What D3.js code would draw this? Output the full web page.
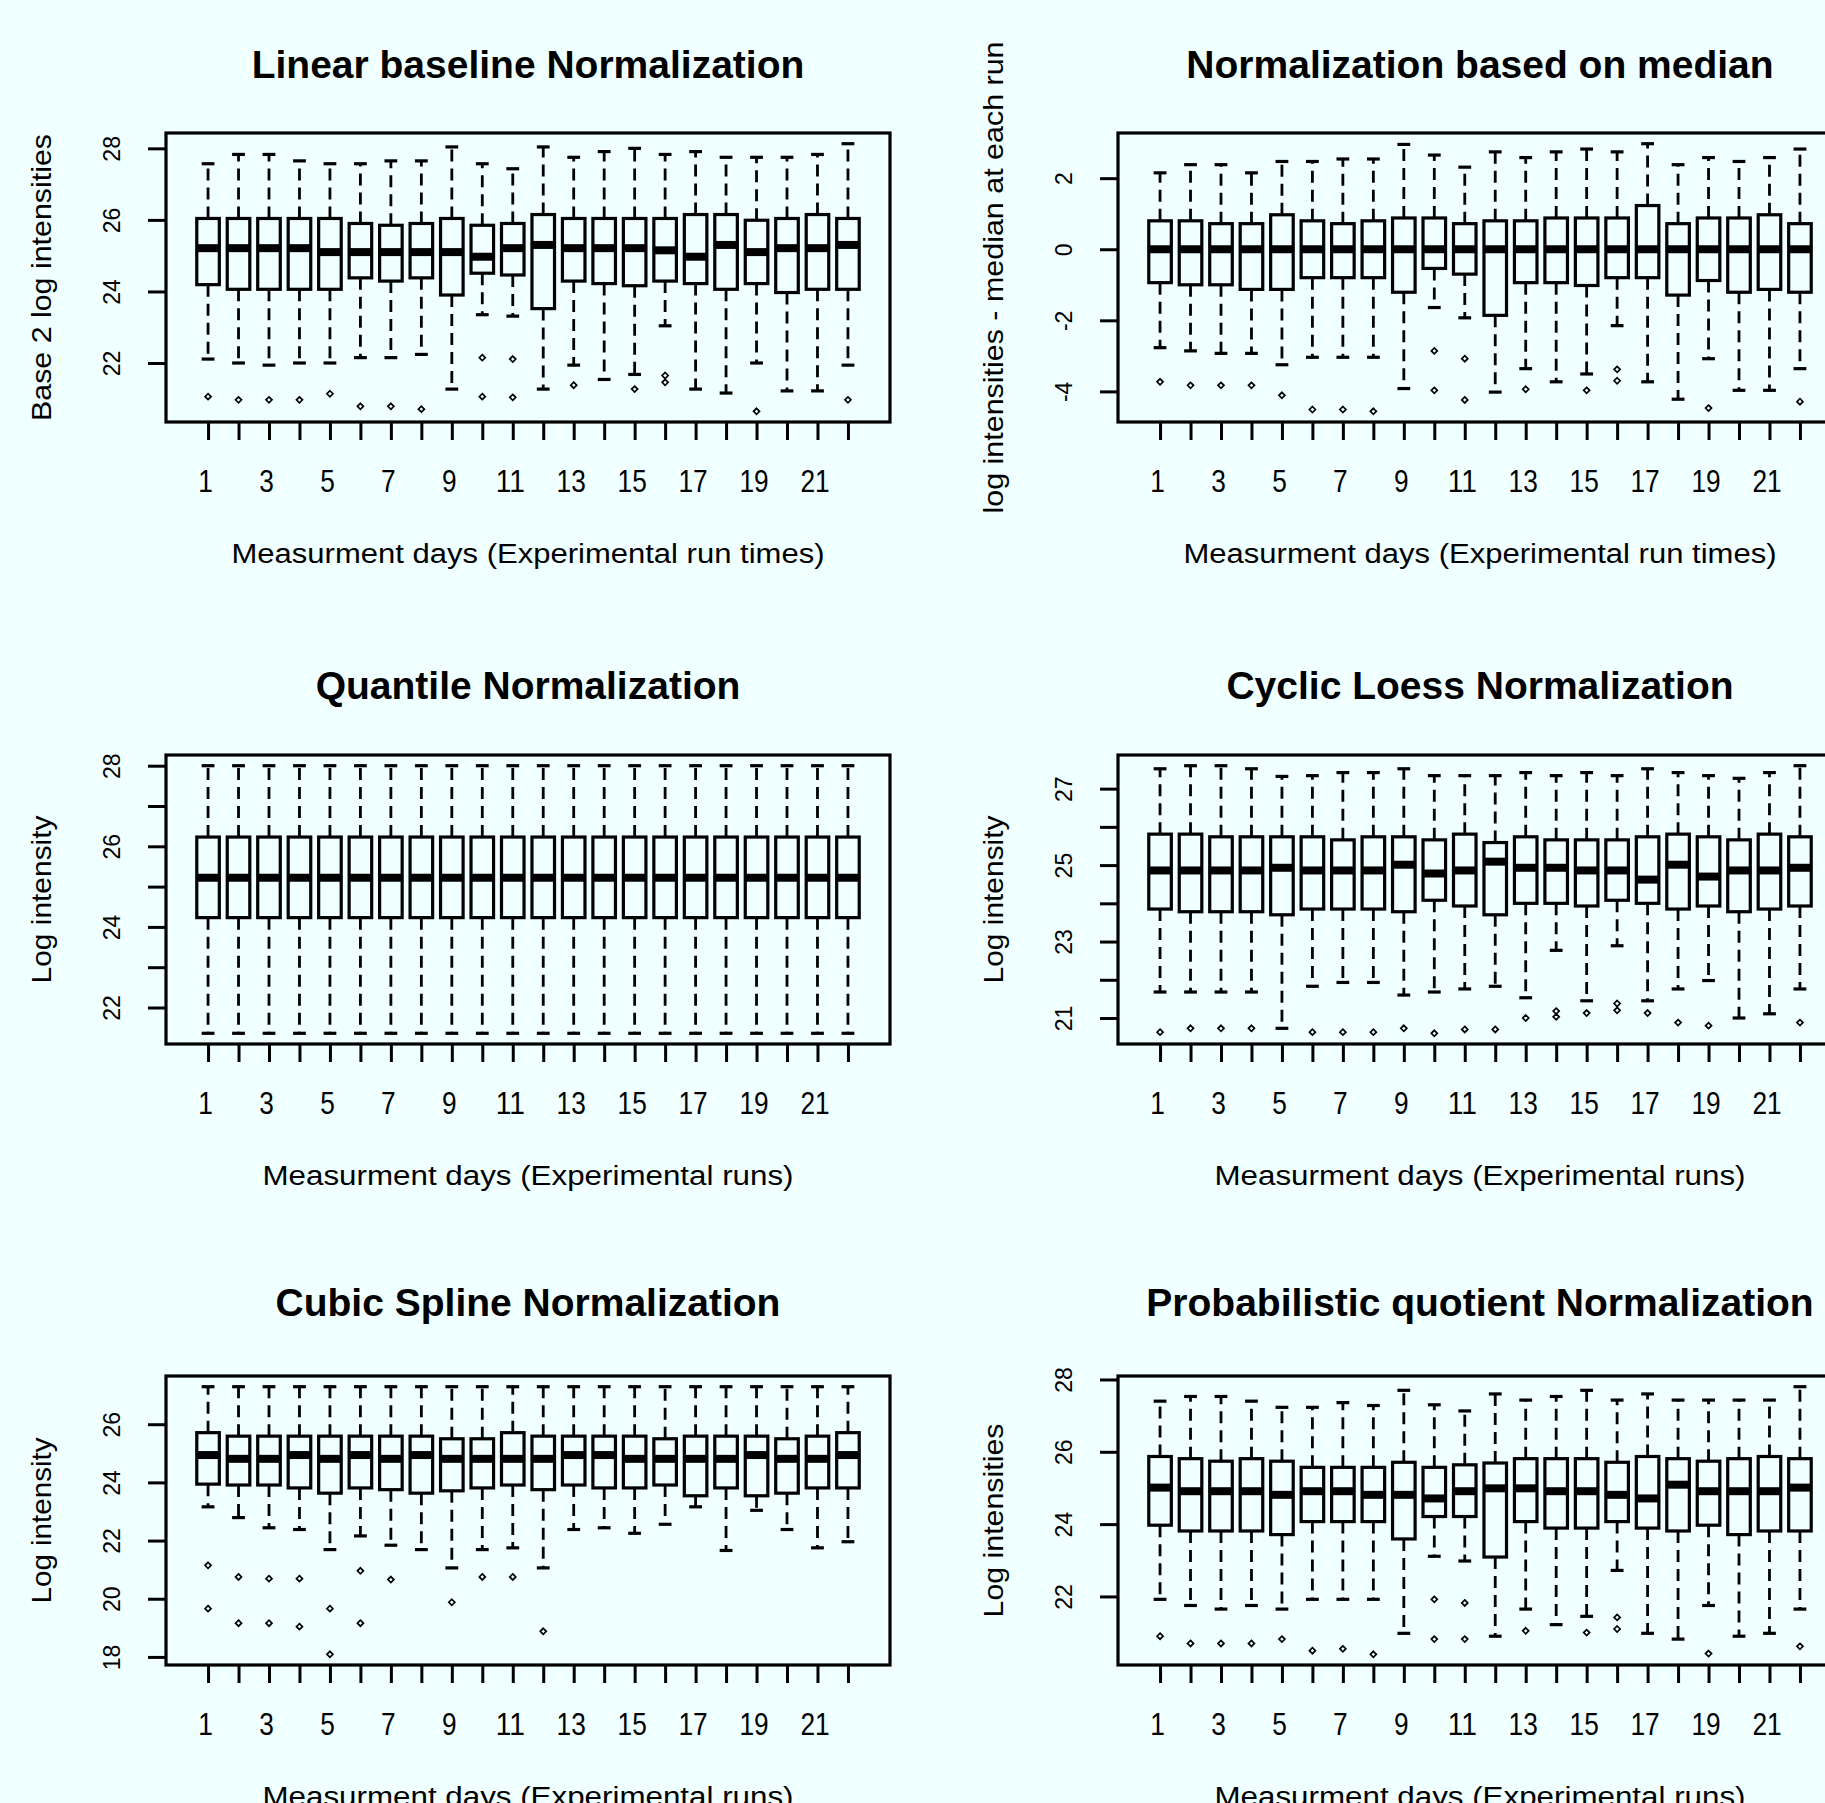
<!DOCTYPE html>
<html>
<head>
<meta charset="utf-8">
<script src="https://cdn.jsdelivr.net/npm/d3@7"></script>
<style>
  html, body { margin: 0; padding: 0; overflow: hidden; background: #F0FFFF; }
  text { font-family: "Liberation Sans", Arial, sans-serif; fill: #000; }
</style>
</head>
<body>
<script>
// Measurement days (one box per experimental run)
const days = [1, 2, 3, 4, 5, 6, 7, 8, 9, 10, 11, 12, 13, 14, 15, 16, 17, 18, 19, 20, 21, 22];

// Linear baseline normalization: whisker ends, quartiles, medians, outliers
const linearUpper  = [27.57, 27.83, 27.83, 27.65, 27.57, 27.57, 27.65, 27.65, 28.04, 27.57, 27.43, 28.04, 27.75, 27.91, 28.00, 27.83, 27.91, 27.75, 27.75, 27.75, 27.83, 28.13];
const linearQ3     = [26.04, 26.04, 26.04, 26.04, 26.04, 25.90, 25.85, 25.90, 26.04, 25.85, 25.90, 26.15, 26.04, 26.04, 26.04, 26.04, 26.15, 26.15, 25.99, 26.04, 26.15, 26.04];
const linearMedian = [25.21, 25.21, 25.21, 25.21, 25.10, 25.10, 25.10, 25.10, 25.10, 24.97, 25.21, 25.30, 25.21, 25.21, 25.21, 25.15, 24.97, 25.30, 25.10, 25.21, 25.21, 25.30];
const linearQ1     = [24.19, 24.06, 24.06, 24.06, 24.06, 24.38, 24.29, 24.38, 23.90, 24.51, 24.46, 23.52, 24.29, 24.22, 24.16, 24.29, 24.22, 24.06, 24.22, 23.97, 24.06, 24.06];
const linearLower  = [22.11, 22.00, 21.94, 22.00, 22.00, 22.15, 22.15, 22.24, 21.27, 23.35, 23.31, 21.27, 21.94, 21.54, 21.68, 23.04, 21.27, 21.16, 22.00, 21.22, 21.22, 21.94];
const linearOut    = [[21.06], [20.97], [20.97], [20.97], [21.14], [20.79], [20.79], [20.71], [], [22.15, 21.06], [22.11, 21.04], [], [21.38], [], [21.27], [21.65, 21.46], [], [], [20.65], [], [], [20.97]];

// Normalization based on median (log intensity minus the run median)
const medianUpper  = [2.15, 2.38, 2.38, 2.15, 2.47, 2.47, 2.54, 2.54, 2.95, 2.65, 2.31, 2.74, 2.58, 2.74, 2.82, 2.74, 2.97, 2.38, 2.58, 2.47, 2.58, 2.82];
const medianQ3     = [0.80, 0.80, 0.72, 0.72, 0.97, 0.80, 0.72, 0.80, 0.88, 0.88, 0.72, 0.80, 0.80, 0.88, 0.88, 0.88, 1.23, 0.72, 0.88, 0.88, 0.97, 0.72];
const medianMedian = [0, 0, 0, 0, 0, 0, 0, 0, 0, 0, 0, 0, 0, 0, 0, 0, 0, 0, 0, 0, 0, 0];
const medianQ1     = [-0.94, -1.00, -1.00, -1.13, -1.13, -0.80, -0.80, -0.80, -1.21, -0.54, -0.70, -1.86, -0.94, -0.94, -1.02, -0.80, -0.80, -1.29, -0.88, -1.21, -1.13, -1.21];
const medianLower  = [-2.77, -2.86, -2.93, -2.93, -3.25, -3.04, -3.04, -3.04, -3.92, -1.64, -1.93, -4.02, -3.36, -3.73, -3.51, -2.15, -3.73, -4.22, -3.08, -3.97, -3.97, -3.36];
const medianOut    = [[-3.73], [-3.83], [-3.83], [-3.83], [-4.11], [-4.51], [-4.51], [-4.56], [], [-2.86, -3.97], [-3.08, -4.24], [], [-3.94], [], [-3.97], [-3.38, -3.70], [], [], [-4.47], [], [], [-4.29]];

// Quantile normalization: identical distributions on every day
const quantileUpper  = [28.00, 28.00, 28.00, 28.00, 28.00, 28.00, 28.00, 28.00, 28.00, 28.00, 28.00, 28.00, 28.00, 28.00, 28.00, 28.00, 28.00, 28.00, 28.00, 28.00, 28.00, 28.00];
const quantileQ3     = [26.23, 26.23, 26.23, 26.23, 26.23, 26.23, 26.23, 26.23, 26.23, 26.23, 26.23, 26.23, 26.23, 26.23, 26.23, 26.23, 26.23, 26.23, 26.23, 26.23, 26.23, 26.23];
const quantileMedian = [25.22, 25.22, 25.22, 25.22, 25.22, 25.22, 25.22, 25.22, 25.22, 25.22, 25.22, 25.22, 25.22, 25.22, 25.22, 25.22, 25.22, 25.22, 25.22, 25.22, 25.22, 25.22];
const quantileQ1     = [24.23, 24.23, 24.23, 24.23, 24.23, 24.23, 24.23, 24.23, 24.23, 24.23, 24.23, 24.23, 24.23, 24.23, 24.23, 24.23, 24.23, 24.23, 24.23, 24.23, 24.23, 24.23];
const quantileLower  = [21.36, 21.36, 21.36, 21.36, 21.36, 21.36, 21.36, 21.36, 21.36, 21.36, 21.36, 21.36, 21.36, 21.36, 21.36, 21.36, 21.36, 21.36, 21.36, 21.36, 21.36, 21.36];
const quantileOut    = [[], [], [], [], [], [], [], [], [], [], [], [], [], [], [], [], [], [], [], [], [], []];

// Cyclic loess normalization
const loessUpper  = [27.52, 27.60, 27.60, 27.52, 27.32, 27.34, 27.42, 27.42, 27.52, 27.34, 27.34, 27.34, 27.42, 27.34, 27.42, 27.34, 27.52, 27.42, 27.34, 27.27, 27.42, 27.60];
const loessQ3     = [25.81, 25.81, 25.74, 25.74, 25.74, 25.74, 25.66, 25.74, 25.74, 25.66, 25.81, 25.59, 25.74, 25.66, 25.66, 25.66, 25.74, 25.81, 25.74, 25.66, 25.81, 25.74];
const loessMedian = [24.86, 24.86, 24.86, 24.86, 24.93, 24.86, 24.86, 24.86, 25.01, 24.78, 24.86, 25.09, 24.93, 24.93, 24.86, 24.86, 24.62, 25.01, 24.70, 24.86, 24.86, 24.93];
const loessQ1     = [23.85, 23.78, 23.78, 23.78, 23.70, 23.85, 23.85, 23.85, 23.78, 24.08, 23.93, 23.70, 24.00, 24.00, 23.93, 24.08, 24.00, 23.85, 23.93, 23.78, 23.85, 23.93];
const loessLower  = [21.68, 21.68, 21.68, 21.68, 20.73, 21.83, 21.93, 21.93, 21.60, 21.68, 21.76, 21.83, 21.53, 22.77, 21.45, 22.89, 21.45, 21.76, 21.98, 21.00, 21.11, 21.76];
const loessOut    = [[20.63], [20.73], [20.73], [20.73], [], [20.63], [20.63], [20.63], [20.73], [20.60], [20.70], [20.70], [21.00], [21.18, 21.03], [21.13], [21.38, 21.20], [21.13], [20.88], [20.80], [], [], [20.88]];

// Cubic spline normalization
const splineUpper  = [27.29, 27.29, 27.29, 27.29, 27.29, 27.29, 27.29, 27.29, 27.29, 27.29, 27.29, 27.29, 27.29, 27.29, 27.29, 27.29, 27.29, 27.29, 27.29, 27.29, 27.29, 27.29];
const splineQ3     = [25.71, 25.59, 25.59, 25.59, 25.59, 25.59, 25.59, 25.59, 25.50, 25.50, 25.71, 25.59, 25.59, 25.59, 25.59, 25.50, 25.59, 25.59, 25.59, 25.50, 25.59, 25.71];
const splineMedian = [24.94, 24.81, 24.81, 24.94, 24.81, 24.94, 24.81, 24.94, 24.81, 24.81, 24.81, 24.81, 24.94, 24.94, 24.81, 24.81, 24.81, 24.81, 24.94, 24.81, 24.81, 24.94];
const splineQ1     = [23.94, 23.91, 23.91, 23.81, 23.63, 23.81, 23.75, 23.63, 23.71, 23.81, 23.91, 23.75, 23.91, 23.81, 23.81, 23.91, 23.54, 23.81, 23.54, 23.63, 23.81, 23.81];
const splineLower  = [23.16, 22.79, 22.44, 22.38, 21.69, 22.16, 21.84, 21.69, 21.06, 21.69, 21.75, 21.06, 22.38, 22.44, 22.25, 22.56, 23.16, 21.66, 23.04, 22.38, 21.75, 21.96];
const splineOut    = [[21.15, 19.66], [20.75, 19.16], [20.69, 19.16], [20.69, 19.04], [19.66, 18.09], [20.96, 19.16], [20.66], [], [19.88], [20.75], [20.75], [18.88], [], [], [], [], [], [], [], [], [], []];

// Probabilistic quotient normalization
const pqnUpper  = [27.40, 27.53, 27.53, 27.40, 27.23, 27.23, 27.36, 27.28, 27.70, 27.30, 27.13, 27.60, 27.43, 27.53, 27.70, 27.43, 27.60, 27.43, 27.43, 27.43, 27.43, 27.80];
const pqnQ3     = [25.87, 25.81, 25.74, 25.81, 25.74, 25.57, 25.57, 25.57, 25.71, 25.57, 25.64, 25.69, 25.81, 25.81, 25.81, 25.71, 25.87, 25.81, 25.74, 25.81, 25.87, 25.81];
const pqnMedian = [25.01, 24.91, 24.91, 24.91, 24.81, 24.91, 24.91, 24.81, 24.81, 24.71, 24.91, 24.99, 24.99, 24.91, 24.91, 24.81, 24.71, 25.09, 24.91, 24.91, 24.91, 25.01];
const pqnQ1     = [23.97, 23.81, 23.81, 23.81, 23.71, 24.07, 24.07, 24.07, 23.59, 24.21, 24.21, 23.09, 24.07, 23.89, 23.89, 24.07, 23.89, 23.81, 23.97, 23.71, 23.81, 23.81];
const pqnLower  = [21.92, 21.75, 21.65, 21.75, 21.65, 21.92, 21.92, 21.92, 20.98, 23.11, 22.98, 20.90, 21.65, 21.22, 21.45, 22.72, 20.98, 20.82, 21.75, 20.90, 20.98, 21.65];
const pqnOut    = [[20.90], [20.70], [20.70], [20.70], [20.82], [20.50], [20.55], [20.40], [], [21.92, 20.82], [21.82, 20.82], [], [21.05], [], [21.00], [21.42, 21.10], [], [], [20.42], [], [], [20.62]];

// Axis tick values and labelled ticks per panel
const linearTicks = [22, 24, 26, 28], linearTickLabels = [22, 24, 26, 28];
const medianTicks = [-4, -2, 0, 2], medianTickLabels = [-4, -2, 0, 2];
const quantileTicks = [22, 23, 24, 25, 26, 27, 28], quantileTickLabels = [22, 24, 26, 28];
const loessTicks = [21, 22, 23, 24, 25, 26, 27], loessTickLabels = [21, 23, 25, 27];
const splineTicks = [18, 20, 22, 24, 26], splineTickLabels = [18, 20, 22, 24, 26];
const pqnTicks = [22, 24, 26, 28], pqnTickLabels = [22, 24, 26, 28];
const dayLabels = [1, 3, 5, 7, 9, 11, 13, 15, 17, 19, 21];

const xlabTimes = 'Measurment days (Experimental run times)';
const xlabRuns = 'Measurment days (Experimental runs)';

const panels = [
  { title: 'Linear baseline Normalization', ylab: 'Base 2 log intensities', ylabLen: 287, xlab: xlabTimes, xlabLen: 593, col: 0, row: 0,
    upper: linearUpper, q3: linearQ3, median: linearMedian, q1: linearQ1, lower: linearLower, out: linearOut, ticks: linearTicks, tickLabels: linearTickLabels },
  { title: 'Normalization based on median', ylab: 'log intensities - median at each run', ylabLen: 472, xlab: xlabTimes, xlabLen: 593, col: 1, row: 0,
    upper: medianUpper, q3: medianQ3, median: medianMedian, q1: medianQ1, lower: medianLower, out: medianOut, ticks: medianTicks, tickLabels: medianTickLabels },
  { title: 'Quantile Normalization', ylab: 'Log intensity', ylabLen: 168, xlab: xlabRuns, xlabLen: 531, col: 0, row: 1,
    upper: quantileUpper, q3: quantileQ3, median: quantileMedian, q1: quantileQ1, lower: quantileLower, out: quantileOut, ticks: quantileTicks, tickLabels: quantileTickLabels },
  { title: 'Cyclic Loess Normalization', ylab: 'Log intensity', ylabLen: 168, xlab: xlabRuns, xlabLen: 531, col: 1, row: 1,
    upper: loessUpper, q3: loessQ3, median: loessMedian, q1: loessQ1, lower: loessLower, out: loessOut, ticks: loessTicks, tickLabels: loessTickLabels },
  { title: 'Cubic Spline Normalization', ylab: 'Log intensity', ylabLen: 166, xlab: xlabRuns, xlabLen: 531, col: 0, row: 2,
    upper: splineUpper, q3: splineQ3, median: splineMedian, q1: splineQ1, lower: splineLower, out: splineOut, ticks: splineTicks, tickLabels: splineTickLabels },
  { title: 'Probabilistic quotient Normalization', ylab: 'Log intensities', ylabLen: 194, xlab: xlabRuns, xlabLen: 531, col: 1, row: 2,
    upper: pqnUpper, q3: pqnQ3, median: pqnMedian, q1: pqnQ1, lower: pqnLower, out: pqnOut, ticks: pqnTicks, tickLabels: pqnTickLabels }
];

const W = 1825, H = 1803;
const colLeft = [166, 1118];
const rowTop = [133, 755, 1376];
const titleGap = [55, 56, 60];
const plotW = 724, plotH = 289;

const svg = d3.select('body').append('svg')
  .attr('width', W).attr('height', H)
  .attr('viewBox', `0 0 ${W} ${H}`);

svg.append('rect').attr('width', W).attr('height', H).attr('fill', '#F0FFFF');

// small hollow diamond used for outlying points
const diamond = s => `M0,${-s}L${s},0L0,${s}L${-s},0Z`;

function drawPanel(p) {
  const left = colLeft[p.col], top = rowTop[p.row];
  const bottom = top + plotH, right = left + plotW;
  const stats = days.map((d, i) => ({
    day: d, up: p.upper[i], q3: p.q3[i], med: p.median[i], q1: p.q1[i], lo: p.lower[i], out: p.out[i]
  }));

  // Value range padded by 4% on each side, as a boxplot does by default
  const vals = stats.flatMap(s => [s.up, s.lo, ...s.out]);
  const vMin = d3.min(vals), vMax = d3.max(vals), span = vMax - vMin;
  const y = d3.scaleLinear().domain([vMin - 0.04 * span, vMax + 0.04 * span]).range([bottom, top]);
  const n = days.length;
  const x = d3.scaleLinear().domain([0.5 - 0.04 * n, n + 0.5 + 0.04 * n]).range([left, right]);
  const unit = x(1) - x(0);
  const halfBox = 0.37 * unit, halfCap = 0.21 * unit;

  const g = svg.append('g');

  // Title
  g.append('text')
    .attr('x', (left + right) / 2).attr('y', top - titleGap[p.row])
    .attr('text-anchor', 'middle')
    .attr('font-size', 39).attr('font-weight', 'bold')
    .text(p.title);

  // Boxes
  const box = g.append('g').selectAll('g').data(stats).join('g');

  box.append('line')
    .attr('x1', d => x(d.day)).attr('x2', d => x(d.day))
    .attr('y1', d => y(d.q3)).attr('y2', d => y(d.up))
    .attr('stroke', '#000').attr('stroke-width', 2.8).attr('stroke-dasharray', '12,7');
  box.append('line')
    .attr('x1', d => x(d.day)).attr('x2', d => x(d.day))
    .attr('y1', d => y(d.q1)).attr('y2', d => y(d.lo))
    .attr('stroke', '#000').attr('stroke-width', 2.8).attr('stroke-dasharray', '12,7');
  box.append('line')
    .attr('x1', d => x(d.day) - halfCap).attr('x2', d => x(d.day) + halfCap)
    .attr('y1', d => y(d.up)).attr('y2', d => y(d.up))
    .attr('stroke', '#000').attr('stroke-width', 3.2);
  box.append('line')
    .attr('x1', d => x(d.day) - halfCap).attr('x2', d => x(d.day) + halfCap)
    .attr('y1', d => y(d.lo)).attr('y2', d => y(d.lo))
    .attr('stroke', '#000').attr('stroke-width', 3.2);
  box.append('rect')
    .attr('x', d => x(d.day) - halfBox).attr('width', 2 * halfBox)
    .attr('y', d => y(d.q3)).attr('height', d => y(d.q1) - y(d.q3))
    .attr('fill', 'none').attr('stroke', '#000').attr('stroke-width', 3.2);
  box.append('line')
    .attr('x1', d => x(d.day) - halfBox).attr('x2', d => x(d.day) + halfBox)
    .attr('y1', d => y(d.med)).attr('y2', d => y(d.med))
    .attr('stroke', '#000').attr('stroke-width', 8);
  box.selectAll('path.outlier').data(d => d.out.map(v => ({ day: d.day, v }))).join('path')
    .attr('class', 'outlier')
    .attr('transform', d => `translate(${x(d.day)},${y(d.v)})`)
    .attr('d', diamond(3))
    .attr('fill', 'none').attr('stroke', '#000').attr('stroke-width', 1.7);

  // Plot frame
  g.append('rect')
    .attr('x', left).attr('y', top).attr('width', plotW).attr('height', plotH)
    .attr('fill', 'none').attr('stroke', '#000').attr('stroke-width', 3.2);

  // Bottom axis: a tick for every day, labels on odd days
  const xAxis = g.append('g')
    .attr('transform', `translate(0,${bottom})`)
    .call(d3.axisBottom(x).tickValues(days).tickSize(18)
      .tickFormat(d => dayLabels.includes(d) ? String(d) : ''));
  xAxis.attr('font-size', null).attr('font-family', null);
  xAxis.select('.domain').remove();
  xAxis.selectAll('.tick line').attr('stroke', '#000').attr('stroke-width', 3);
  xAxis.selectAll('.tick text')
    .attr('x', -3).attr('y', 70).attr('dy', null).attr('font-size', 31).attr('fill', '#000')
    .each(function (d) {
      if (dayLabels.includes(d)) {
        d3.select(this).attr('textLength', String(d).length * 14.6).attr('lengthAdjust', 'spacingAndGlyphs');
      }
    });

  // Left axis with rotated labels
  const yAxis = g.append('g')
    .attr('transform', `translate(${left},0)`)
    .call(d3.axisLeft(y).tickValues(p.ticks).tickSize(18)
      .tickFormat(d => p.tickLabels.includes(d) ? String(d) : ''));
  yAxis.attr('font-size', null).attr('font-family', null);
  yAxis.select('.domain').remove();
  yAxis.selectAll('.tick line').attr('stroke', '#000').attr('stroke-width', 3);
  yAxis.selectAll('.tick text')
    .attr('transform', 'rotate(-90)')
    .attr('x', 0).attr('y', -46).attr('dy', null)
    .attr('text-anchor', 'middle').attr('font-size', 23).attr('fill', '#000');

  // Axis titles
  g.append('text')
    .attr('x', (left + right) / 2).attr('y', bottom + 141)
    .attr('text-anchor', 'middle').attr('font-size', 27)
    .attr('textLength', p.xlabLen).attr('lengthAdjust', 'spacingAndGlyphs')
    .text(p.xlab);
  g.append('text')
    .attr('transform', `translate(${left - 115},${(top + bottom) / 2}) rotate(-90)`)
    .attr('text-anchor', 'middle').attr('font-size', 28)
    .attr('textLength', p.ylabLen).attr('lengthAdjust', 'spacingAndGlyphs')
    .text(p.ylab);
}

panels.forEach(drawPanel);
</script>
</body>
</html>
